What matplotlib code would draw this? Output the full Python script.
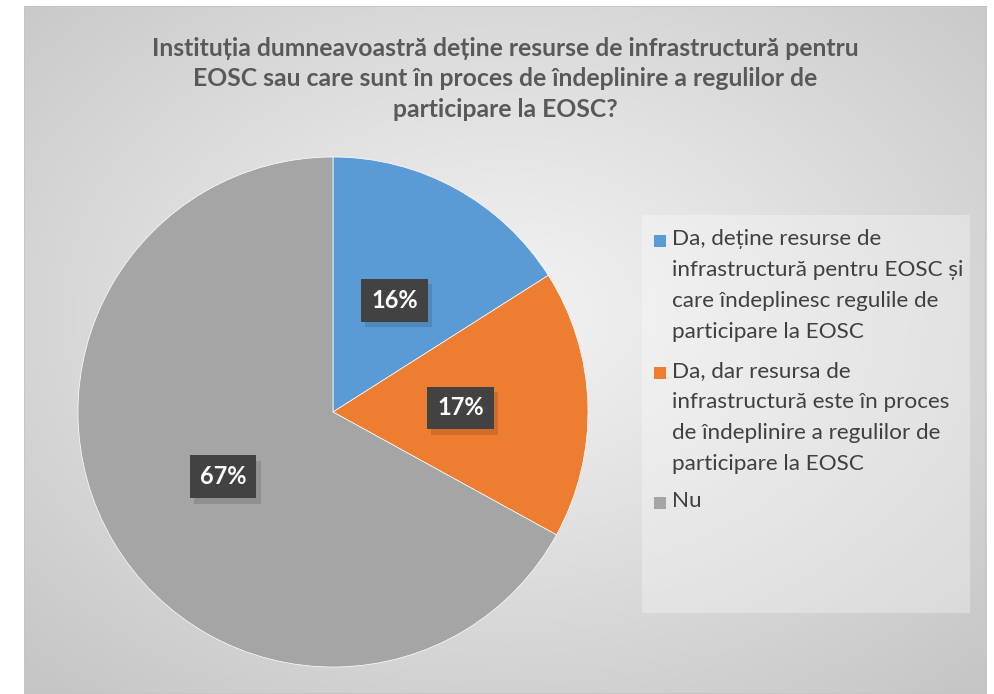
import numpy as np
import matplotlib
matplotlib.use("Agg")
import matplotlib.pyplot as plt
from matplotlib.patches import Rectangle
import matplotlib.patheffects as pe

title = ("Instituția dumneavoastră deține resurse de infrastructură pentru\n"
         "EOSC sau care sunt în proces de îndeplinire a regulilor de\n"
         "participare la EOSC?")
categories = [
    "Da, deține resurse de\ninfrastructură pentru EOSC și\ncare îndeplinesc regulile de\nparticipare la EOSC",
    "Da, dar resursa de\ninfrastructură este în proces\nde îndeplinire a regulilor de\nparticipare la EOSC",
    "Nu",
]
values = [16, 17, 67]
colors = ["#5B9BD5", "#ED7D31", "#A5A5A5"]

W, H = 994, 694
fig = plt.figure(figsize=(W / 100, H / 100), dpi=100)
fig.patch.set_facecolor("white")

# background gradient panel
bg = fig.add_axes([24 / W, 0, (986 - 24) / W, 1 - 6 / H])
bg.set_axis_off()
yy, xx = np.mgrid[0:200, 0:300]
cx, cy = 150, 110
d = np.sqrt(((xx - cx) / 150.0) ** 2 + ((yy - cy) / 100.0) ** 2) / np.sqrt(2)
val = 0.95 - 0.17 * np.clip(d, 0, 1) ** 1.1
img = np.dstack([val, val, val])
bg.imshow(img, aspect="auto", extent=[0, 1, 0, 1], interpolation="bilinear", origin="lower")
bg.set_xlim(0, 1)
bg.set_ylim(0, 1)
bg.add_patch(Rectangle((0, 0), 1, 1, transform=bg.transAxes, fill=False,
                       edgecolor="#c4c4c4", linewidth=1.2))

# legend panel
fig.patches.append(Rectangle((642 / W, 1 - 613 / H), (970 - 642) / W, (613 - 215) / H,
                             transform=fig.transFigure, facecolor="white", alpha=0.3,
                             edgecolor="none", zorder=1))

fig.text(505 / W, 1 - 79 / H, title, ha="center", va="center", fontsize=17.8,
         fontweight="bold", color="#595959", linespacing=1.38,
         family=["Lato", "DejaVu Sans"])

r = 255
ax = fig.add_axes([(333 - r) / W, 1 - (412 + r) / H, 2 * r / W, 2 * r / H])
ax.set_axis_off()
wedges, texts, autotexts = ax.pie(values, colors=colors, startangle=90, counterclock=False,
                                  autopct=lambda p: f"{p:.0f}%", pctdistance=0.5,
                                  wedgeprops=dict(edgecolor="white", linewidth=0.5))
ax.set_xlim(-1, 1)
ax.set_ylim(-1, 1)
for t in autotexts:
    t.set_fontsize(17)
    t.set_fontweight("bold")
    t.set_color("white")
    t.set_family(["Lato", "DejaVu Sans"])
    t.set_bbox(dict(boxstyle="square,pad=0.42", facecolor="#424242", edgecolor="none",
                    linewidth=0))
    t.set_zorder(5)
    t.get_bbox_patch().set_path_effects([
        pe.SimplePatchShadow(offset=(3, -4), shadow_rgbFace="black", alpha=0.12),
        pe.Normal()])

# legend manually placed
ys = [241, 373, 503]
for c, lab, y in zip(colors, categories, ys):
    fig.patches.append(Rectangle((654 / W, 1 - (y + 6) / H), 12 / W, 12 / H,
                                 transform=fig.transFigure, facecolor=c, edgecolor="none",
                                 zorder=3))
    fig.text(672 / W, 1 - (y - 12) / H, lab, ha="left", va="top", fontsize=16.2,
             color="#404040", linespacing=1.68, family=["Lato", "DejaVu Sans"], zorder=3)

fig.savefig("out.png", dpi=100)
